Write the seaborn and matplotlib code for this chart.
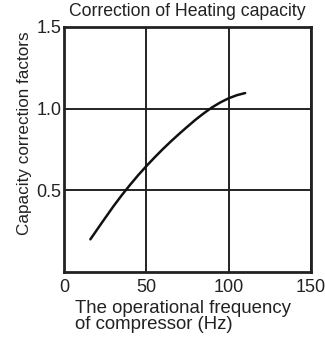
import matplotlib
matplotlib.use("Agg")
import matplotlib.pyplot as plt
import seaborn as sns
import pandas as pd

# Heating capacity correction factor vs compressor frequency
frequency_hz = [16, 23, 30, 35, 40, 45, 50, 55, 60, 65, 70, 75, 80, 85, 90, 95,
                100, 105, 110]
correction_factor = [0.200, 0.302, 0.402, 0.469, 0.532, 0.592, 0.648, 0.701,
                     0.752, 0.800, 0.846, 0.890, 0.933, 0.972, 1.008, 1.038,
                     1.063, 1.082, 1.095]

x_ticks = [0, 50, 100, 150]
y_ticks = [0.5, 1.0, 1.5]

sns.set_theme(style="white")
plt.rcParams["font.family"] = ["Liberation Sans", "DejaVu Sans"]

df = pd.DataFrame({"freq": frequency_hz, "factor": correction_factor})

fig = plt.figure(figsize=(3.25, 3.4), dpi=100)
ax = fig.add_axes([0.197, 0.2, 0.76, 0.721])

sns.lineplot(data=df, x="freq", y="factor", ax=ax, color="#111111", linewidth=1.8)

ax.set_xlim(0, 150)
ax.set_ylim(0, 1.5)
ax.set_xticks(x_ticks)
ax.set_xticklabels([str(t) for t in x_ticks])
ax.set_yticks(y_ticks)
ax.set_yticklabels([f"{t:.1f}" for t in y_ticks])
ax.grid(True, color="#222222", linewidth=1.4)
for s in ax.spines.values():
    s.set_color("#222222")
    s.set_linewidth(2.0)
    s.set_visible(True)
ax.tick_params(axis="both", length=0, labelsize=13, colors="#222222")
ax.tick_params(axis="x", pad=5)
ax.tick_params(axis="y", pad=2)

ax.set_title("Correction of Heating capacity", fontsize=12.7, color="#222222", pad=7.5)
ax.set_xlabel("The operational frequency\nof compressor (Hz)", fontsize=13.4,
              color="#222222", multialignment="left", linespacing=0.92)
ax.set_ylabel("Capacity correction factors", fontsize=12.3, color="#222222")
ax.xaxis.set_label_coords(0.48, -0.114)
ax.yaxis.set_label_coords(-0.13, 0.567)

fig.savefig("out.png", dpi=100)
